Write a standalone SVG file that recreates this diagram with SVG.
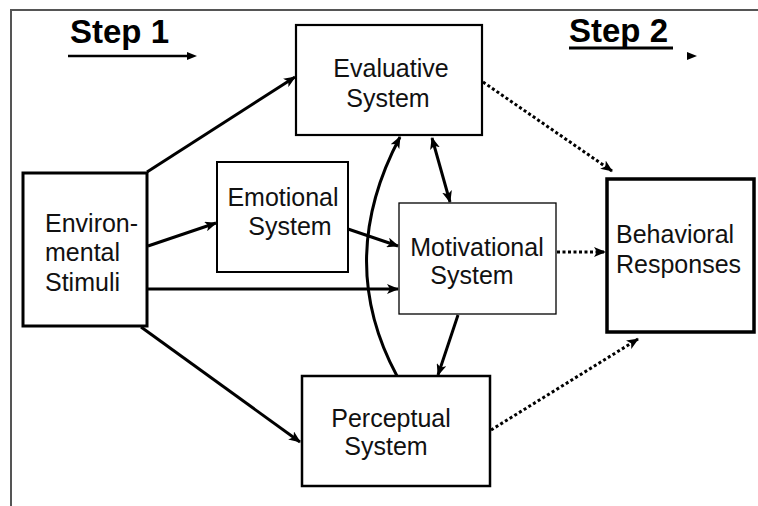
<svg xmlns="http://www.w3.org/2000/svg" width="758" height="506" viewBox="0 0 758 506">
<defs>
<style>
.box{fill:#fff;stroke:#000}
.lbl{font-family:"Liberation Sans",Arial,sans-serif;font-size:25px;fill:#111}
.mid{text-anchor:middle}
.step{font-family:"Liberation Sans",Arial,sans-serif;font-size:33px;font-weight:bold;fill:#000}
.c{fill:none;stroke:#000;stroke-width:3}
.d{fill:none;stroke:#000;stroke-width:3;stroke-dasharray:3 2.5}
</style>
<marker id="ah" viewBox="0 0 12 10" refX="11" refY="5" markerWidth="12" markerHeight="10" markerUnits="userSpaceOnUse" orient="auto-start-reverse">
<path d="M0,0 L12,5 L0,10 L3,5 z" fill="#000"/>
</marker>
</defs>
<rect width="758" height="506" fill="#fff"/>
<path d="M11,506 V10 H758" fill="none" stroke="#555" stroke-width="2"/>
<g id="step1">
<text class="step" x="70" y="43">Step 1</text>
<line x1="68" y1="56" x2="189" y2="56" stroke="#000" stroke-width="2.3"/>
<polygon points="187,52 197,56 187,60" fill="#000"/>
</g>
<g id="step2">
<text class="step" x="569" y="42">Step 2</text>
<line x1="569" y1="48" x2="673" y2="48" stroke="#000" stroke-width="3"/>
<polygon points="687,52 697,56 687,60" fill="#000"/>
</g>
<g id="connectors">
<line class="c" x1="147" y1="172" x2="295" y2="77" marker-end="url(#ah)"/>
<line class="c" x1="148" y1="246" x2="216" y2="223" marker-end="url(#ah)"/>
<line class="c" x1="148" y1="289" x2="398" y2="289" marker-end="url(#ah)"/>
<line class="c" x1="141" y1="327" x2="300" y2="442" marker-end="url(#ah)"/>
<line class="c" x1="348" y1="229" x2="398" y2="246" marker-end="url(#ah)"/>
<line class="c" x1="432" y1="138" x2="450" y2="202" marker-start="url(#ah)" marker-end="url(#ah)"/>
<path class="c" d="M397,376 C356,300 356,220 400,137" marker-end="url(#ah)"/>
<line class="c" x1="458" y1="315" x2="438" y2="375" marker-end="url(#ah)"/>
<line class="d" x1="483" y1="82" x2="612" y2="171" marker-end="url(#ah)"/>
<line class="d" x1="557" y1="252" x2="605" y2="252" marker-end="url(#ah)"/>
<line class="d" x1="491" y1="430" x2="638" y2="339" marker-end="url(#ah)"/>
</g>
<g id="evaluative">
<rect class="box" x="296" y="25" width="186" height="110" stroke-width="2.2"/>
<text class="lbl mid" x="391" y="77">Evaluative</text>
<text class="lbl mid" x="388" y="107">System</text>
</g>
<g id="environmental">
<rect class="box" x="23" y="173" width="124" height="153" stroke-width="3"/>
<text class="lbl" x="45" y="232">Environ-</text>
<text class="lbl" x="45" y="261">mental</text>
<text class="lbl" x="45" y="291">Stimuli</text>
</g>
<g id="emotional">
<rect class="box" x="217" y="162" width="131" height="110" stroke-width="2"/>
<text class="lbl mid" x="283" y="206">Emotional</text>
<text class="lbl mid" x="290" y="235">System</text>
</g>
<g id="motivational">
<rect class="box" x="399" y="203" width="157" height="111" stroke-width="1.3"/>
<text class="lbl mid" x="477" y="256">Motivational</text>
<text class="lbl mid" x="472" y="284">System</text>
</g>
<g id="behavioral">
<rect class="box" x="607" y="179" width="147" height="153" stroke-width="3.5"/>
<text class="lbl" x="616" y="243">Behavioral</text>
<text class="lbl" x="616" y="273">Responses</text>
</g>
<g id="perceptual">
<rect class="box" x="302" y="376" width="188" height="110" stroke-width="2.5"/>
<text class="lbl mid" x="391" y="427">Perceptual</text>
<text class="lbl mid" x="386" y="455">System</text>
</g>
</svg>
